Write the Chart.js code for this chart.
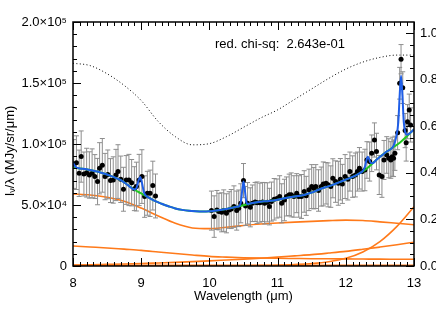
<!DOCTYPE html>
<html><head><meta charset="utf-8">
<script src="https://cdn.jsdelivr.net/npm/chart.js@4.4.1/dist/chart.umd.min.js"></script>
<style>html,body{margin:0;padding:0;background:#fff;}#wrap{width:436px;height:312px;}</style>
</head><body><div id="wrap"><canvas id="c" width="436" height="312"></canvas></div>
<script>
// ---------- data ----------
const obsX1 = [8.01,8.05,8.09,8.12,8.16,8.20,8.24,8.28,8.32,8.36,8.39,8.43,8.47,8.51,8.55,8.59,8.63,8.66,8.70,8.74,8.78,8.82,8.86,8.90,8.93,8.97,9.01,9.05,9.09,9.13,9.17,9.21];
const obsY1 = [83600,84700,76000,89700,75400,76500,74600,76000,73300,69200,80100,82500,73300,75100,70000,70500,74600,77400,71100,62900,70500,70500,68300,63400,65100,70500,73300,56900,59600,59600,65900,57400];
const obsE1 = [20000,22000,19000,21000,18000,20000,19000,20000,18000,19000,21000,22000,19000,20000,18000,19000,21000,22000,19000,18000,20000,21000,19000,18000,20000,21000,22000,17000,18000,19000,20000,18000];

const obsX2 = [10.03,10.07,10.11,10.14,10.18,10.21,10.25,10.29,10.32,10.36,10.40,10.43,10.46,10.50,10.53,10.56,10.60,10.63,10.67,10.70,10.74,10.78,10.81,10.85,10.88,10.91,10.95,10.99,11.03,11.06,11.10,11.13,11.17,11.20,11.24,11.28,11.31,11.35,11.39,11.42,11.46,11.50,11.53,11.56,11.60,11.64,11.67,11.71,11.74,11.78,11.81,11.85,11.89,11.92,11.95,11.99,12.03,12.06,12.10,12.14,12.17,12.20,12.24,12.28,12.31,12.35,12.38,12.42,12.45,12.49,12.53,12.56,12.60,12.63,12.66,12.68,12.70,12.72,12.76,12.79,12.81,12.835,12.87,12.885,12.905,12.93,12.95];
const obsY2 = [45400,40500,45900,44600,44000,45400,43200,45900,46700,48700,45400,47300,51400,70000,49200,51400,48100,51400,52500,51900,51900,52500,51400,52200,48700,52800,54700,55300,57000,51400,54100,57000,58300,58300,57000,59700,57000,57000,61100,57500,62400,65100,63800,65100,61900,65100,67300,67800,66500,65100,71900,69200,67800,71100,67300,73300,71100,77400,73300,74600,77400,80100,77400,78700,86900,85600,92400,103300,93800,74600,73300,86900,91000,88300,86900,89600,88300,92400,109300,149800,169500,146200,111000,101000,118300,127900,115600];
const obsE2 = [16000,17000,16000,15000,16000,17000,16000,15000,16000,17000,16000,15000,16000,14000,16000,17000,16000,15000,16000,17000,16000,16000,17000,16000,15000,16000,17000,16000,17000,16000,17000,16000,17000,18000,17000,16000,17000,18000,17000,16000,17000,18000,17000,18000,17000,16000,18000,17000,18000,17000,16000,17000,18000,17000,16000,18000,17000,16000,17000,18000,16000,17000,16000,17000,15000,16000,15000,14000,15000,16000,17000,16000,15000,16000,15000,16000,15000,14000,14000,13000,12000,13000,14000,15000,14000,13000,14000];

// total model (continuum + lines), blue
const modelX = [8.00,8.05,8.10,8.20,8.30,8.40,8.50,8.60,8.70,8.80,8.90,8.93,8.96,8.985,9.01,9.04,9.07,9.10,9.20,9.30,9.40,9.50,9.60,9.70,9.80,9.90,10.00,10.10,10.20,10.30,10.40,10.44,10.46,10.48,10.50,10.52,10.54,10.56,10.60,10.70,10.80,10.90,11.00,11.10,11.20,11.30,11.40,11.50,11.60,11.70,11.80,11.90,12.00,12.10,12.20,12.25,12.28,12.30,12.32,12.34,12.36,12.39,12.45,12.50,12.60,12.70,12.74,12.77,12.79,12.81,12.83,12.85,12.87,12.90,12.95,13.00];
const totalModel = [84500,80600,80000,79300,78000,76700,75000,72800,70300,66500,62700,63800,69900,73000,68400,60500,57600,56500,53300,51000,49000,47200,46000,45200,44800,44600,44800,45500,46300,47300,48500,49200,51900,61300,69300,61900,53000,50900,51300,52300,53000,53400,54300,55500,56500,57400,58400,60200,62500,64500,66300,68500,70800,73000,76000,77900,81300,86000,89500,88000,85000,84200,87000,89500,93800,98500,106000,118000,140000,156000,140000,118000,110000,107500,109500,112000];

// continuum, green
const contX = [8.0,8.1,8.2,8.3,8.4,8.5,8.6,8.7,8.8,8.9,9.0,9.1,9.2,9.3,9.4,9.5,9.6,9.7,9.8,9.9,10.0,10.1,10.2,10.3,10.4,10.5,10.6,10.7,10.8,10.9,11.0,11.1,11.2,11.3,11.4,11.5,11.6,11.7,11.8,11.9,12.0,12.1,12.2,12.3,12.4,12.5,12.6,12.7,12.8,12.9,13.0];
const contModel = [80500,80000,79300,78000,76700,75000,72800,70300,66500,62500,59500,56500,53300,51000,49000,47200,46000,45200,44800,44600,44800,45500,46300,47300,48500,49800,51300,52300,53000,53400,54300,55500,56500,57400,58400,60200,62500,64500,66300,68500,70800,73000,76000,79500,84500,89500,93800,97500,101500,106500,112000];

// dust components (orange) and extinction (dotted, right axis)
const compX = [8.0,8.25,8.5,8.75,9.0,9.25,9.5,9.75,10.0,10.25,10.5,10.75,11.0,11.25,11.5,11.75,12.0,12.25,12.5,12.75,13.0];
const comp1 = [59000,58200,56300,53000,47500,41000,35000,31200,30600,31800,33200,34400,35300,36000,36600,37200,37600,37300,36200,35000,33800];
const comp2 = [16400,15600,14800,13800,12800,11500,10200,9000,7900,7300,6800,6500,6300,6150,6000,5900,5800,5700,5600,5550,5500];
const comp3 = [800,1000,1300,1600,2000,2500,3000,3600,4200,4900,5600,6400,7300,8300,9300,10600,12000,13700,15500,17400,19500];
const comp4 = [0,0,0,0,0,0,0,0,0,0,100,300,600,1200,2000,3500,6300,11500,20000,32500,48500];
const comp5 = [300,300,300,300,300,300,300,300,300,300,300,300,300,300,300,300,300,300,300,300,300];
const extinction = [0.870,0.860,0.825,0.775,0.710,0.620,0.555,0.520,0.525,0.555,0.595,0.635,0.670,0.715,0.760,0.805,0.845,0.875,0.895,0.905,0.905];

// ticks
const xTicks = [8,9,10,11,12,13];
const yTicks = [0,50000,100000,150000,200000];
const yTickLabels = ['0','5.0×10⁴','1.0×10⁵','1.5×10⁵','2.0×10⁵'];
const y2Ticks = [0,0.2,0.4,0.6,0.8,1.0];
const y2TickLabels = ['0.0','0.2','0.4','0.6','0.8','1.0'];
const chiText = 'red. chi-sq:  2.643e-01';
const xTitle = 'Wavelength (μm)';

// ---------- helpers ----------
const FONT = "'Liberation Sans', Arial, Helvetica, sans-serif";
const pts = (xs, ys) => xs.map((x, i) => ({x: x, y: ys[i]}));
function errSegs(xs, ys, es) {
  const out = [];
  xs.forEach((x, i) => { out.push({x: x, y: ys[i] - es[i]}, {x: x, y: ys[i] + es[i]}, {x: x, y: null}); });
  return out;
}
function errCaps(xs, ys, es) {
  const out = [];
  xs.forEach((x, i) => { out.push({x: x, y: ys[i] - es[i]}, {x: x, y: ys[i] + es[i]}); });
  return out;
}
const allX = obsX1.concat(obsX2), allY = obsY1.concat(obsY2), allE = obsE1.concat(obsE2);
const ORANGE = '#ff7a1a';
const GREY = '#8e8e8e';
function comp(data, w) {
  return {data: pts(compX, data), borderColor: ORANGE, borderWidth: w || 1.6, pointRadius: 0, cubicInterpolationMode: 'monotone', order: 6};
}

const framePlugin = {
  id: 'frame',
  afterDraw(chart) {
    const {ctx, chartArea: a, scales} = chart;
    const x = scales.x, y = scales.y, y2 = scales.y2;
    ctx.save();
    ctx.strokeStyle = '#000';
    ctx.lineWidth = 1;
    ctx.beginPath();
    for (let i = 80; i <= 130; i++) {
      const v = i / 10;
      const px = Math.round(x.getPixelForValue(v)) + 0.5;
      const L = (i % 10 === 0) ? 8 : 4;
      ctx.moveTo(px, a.bottom); ctx.lineTo(px, a.bottom - L);
      ctx.moveTo(px, a.top); ctx.lineTo(px, a.top + L);
    }
    for (let i = 0; i <= 20; i++) {
      const py = Math.round(y.getPixelForValue(i * 10000)) + 0.5;
      const L = (i % 5 === 0) ? 8 : 4;
      ctx.moveTo(a.left, py); ctx.lineTo(a.left + L, py);
    }
    for (let i = 0; i <= 20; i++) {
      const py = Math.round(y2.getPixelForValue(i * 0.05)) + 0.5;
      const L = (i % 4 === 0) ? 8 : 4;
      ctx.moveTo(a.right, py); ctx.lineTo(a.right - L, py);
    }
    ctx.stroke();
    ctx.lineWidth = 1.5;
    ctx.strokeRect(a.left, a.top, a.right - a.left, a.bottom - a.top);

    // texts
    ctx.fillStyle = '#000';
    ctx.font = '13px ' + FONT;
    ctx.textBaseline = 'middle';
    ctx.textAlign = 'left';
    ctx.fillText(chiText, 215, 44);
    ctx.textAlign = 'center';
    ctx.fillText(xTitle, (a.left + a.right) / 2, 296);

    // y title with subscript nu
    ctx.save();
    ctx.translate(10, 151);
    ctx.rotate(-Math.PI / 2);
    const parts = [{t: 'I', f: 13, dy: 0}, {t: 'ν', f: 9, dy: 3}, {t: '/λ (MJy/sr/μm)', f: 13, dy: 0}];
    let w = 0;
    parts.forEach(p => { ctx.font = p.f + 'px ' + FONT; p.w = ctx.measureText(p.t).width; w += p.w; });
    let cx = -w / 2;
    ctx.textAlign = 'left';
    parts.forEach(p => { ctx.font = p.f + 'px ' + FONT; ctx.fillText(p.t, cx, p.dy); cx += p.w; });
    ctx.restore();
    ctx.restore();
  }
};

Chart.defaults.font.family = FONT;
Chart.defaults.font.size = 13;
Chart.defaults.color = '#000';

new Chart(document.getElementById('c'), {
  type: 'line',
  data: {
    datasets: [
      {data: pts(modelX, totalModel), borderColor: '#1f5ee8', borderWidth: 2, pointRadius: 0, cubicInterpolationMode: 'monotone', order: 0},
      {data: pts(contX, contModel), borderColor: '#22c822', borderWidth: 2, pointRadius: 0, cubicInterpolationMode: 'monotone', order: 1},
      {data: pts(allX, allY), showLine: false, pointRadius: 2.5, pointBackgroundColor: '#000', pointBorderWidth: 0, order: 2},
      {data: errCaps(allX, allY, allE), showLine: false, pointStyle: 'line', pointRadius: 2.5, pointBorderColor: GREY, pointBorderWidth: 1, order: 3},
      {data: errSegs(allX, allY, allE), borderColor: GREY, borderWidth: 1, pointRadius: 0, spanGaps: false, order: 4},
      comp(comp1), comp(comp2), comp(comp3), comp(comp4), comp(comp5, 2.5),
      {data: pts(compX, extinction), yAxisID: 'y2', borderColor: '#000', borderWidth: 1, borderDash: [1, 2.4], pointRadius: 0, cubicInterpolationMode: 'monotone', order: 7}
    ]
  },
  options: {
    responsive: false, animation: false, devicePixelRatio: 1,
    layout: {padding: {top: 22, left: 0, right: 0, bottom: 0}},
    plugins: {legend: {display: false}, tooltip: {enabled: false}},
    scales: {
      x: {type: 'linear', min: 8, max: 13,
        afterBuildTicks: s => { s.ticks = xTicks.map(v => ({value: v})); },
        afterFit: s => { s.height = 46; },
        ticks: {padding: 10, maxRotation: 0, callback: v => String(v)},
        grid: {display: false, drawTicks: false}, border: {display: false}},
      y: {type: 'linear', min: 0, max: 200000,
        afterBuildTicks: s => { s.ticks = yTicks.map(v => ({value: v})); },
        afterFit: s => { s.width = 73; },
        ticks: {padding: 6, callback: (v, i) => yTickLabels[i]},
        grid: {display: false, drawTicks: false}, border: {display: false}},
      y2: {type: 'linear', position: 'right', min: 0, max: 1.047,
        afterBuildTicks: s => { s.ticks = y2Ticks.map(v => ({value: v})); },
        afterFit: s => { s.width = 22; },
        ticks: {padding: 6, callback: (v, i) => y2TickLabels[i]},
        grid: {display: false, drawTicks: false}, border: {display: false}}
    }
  },
  plugins: [framePlugin]
});
</script></body></html>
